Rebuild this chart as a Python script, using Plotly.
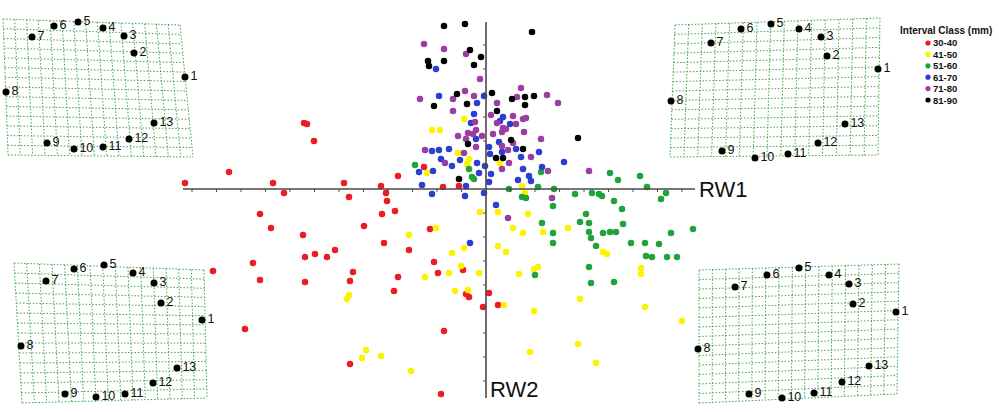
import plotly.graph_objects as go

# ---------------- DATA ----------------
categories = ["30-40", "41-50", "51-60", "61-70", "71-80", "81-90"]
colors = ["#ed1c24", "#fff200", "#1fa33a", "#2a3fd2", "#9a3ea4", "#000000"]

rw1_30_40 = [-0.182, -0.179, -0.172, -0.257, -0.301, -0.213, -0.142, -0.202, -0.105, -0.100,
             -0.088, -0.062, -0.043, -0.027, -0.137, -0.099, -0.091, -0.226, -0.104, -0.215,
             -0.122, -0.183, -0.102, -0.151, -0.171, -0.159, -0.181, -0.233, -0.273, -0.133,
             -0.136, -0.226, -0.181, -0.092, -0.020, -0.017, 0.003, -0.003, -0.241, -0.042,
             -0.136, -0.045, -0.056, -0.077, -0.088, -0.052, -0.048, -0.023, 0.012]
rw2_30_40 = [0.066, 0.065, 0.048, 0.017, 0.006, 0.006, 0.006, -0.004, 0.003, -0.004,
             0.013, 0.022, 0.002, 0.003, -0.008, -0.012, -0.022, -0.025, -0.025, -0.039,
             -0.037, -0.046, -0.054, -0.061, -0.065, -0.068, -0.068, -0.074, -0.082, -0.083,
             -0.092, -0.091, -0.093, -0.102, -0.105, -0.108, -0.104, -0.118, -0.140, -0.142,
             -0.175, -0.205, -0.040, -0.061, -0.088, -0.073, -0.084, -0.081, -0.116]

rw1_41_50 = [-0.022, -0.054, -0.046, -0.028, -0.017, -0.019, -0.059, 0.014, 0.036, 0.039,
             -0.006, 0.012, 0.042, 0.027, 0.037, 0.057, 0.082, 0.117, 0.121, 0.155,
             0.155, 0.052, 0.048, 0.033, 0.012, 0.020, -0.022, -0.034, -0.050, -0.077,
             -0.025, -0.037, -0.061, -0.007, -0.031, -0.018, 0.018, 0.048, 0.094, 0.159,
             0.196, -0.105, -0.075, 0.044, 0.092, 0.110, -0.137, -0.139, -0.120, -0.124]
rw2_41_50 = [0.070, 0.059, 0.059, 0.036, 0.030, 0.025, 0.016, 0.026, 0.003, -0.004,
             -0.023, -0.023, -0.025, -0.039, -0.044, -0.043, -0.039, -0.063, -0.065, -0.079,
             -0.085, -0.078, -0.080, -0.085, -0.057, -0.063, -0.059, -0.064, -0.039, -0.046,
             -0.077, -0.084, -0.088, -0.084, -0.102, -0.101, -0.116, -0.122, -0.110, -0.118,
             -0.132, -0.167, -0.182, -0.163, -0.155, -0.174, -0.106, -0.110, -0.161, -0.169]

rw1_51_60 = [-0.071, -0.017, -0.014, -0.012, 0.023, 0.036, 0.040, 0.052, 0.055, 0.068,
             0.089, 0.067, 0.106, 0.113, 0.116, 0.128, 0.136, 0.161, 0.180, 0.175,
             0.124, 0.132, 0.154, 0.056, 0.067, 0.067, 0.094, 0.100, 0.103, 0.103,
             0.105, 0.110, 0.117, 0.124, 0.130, 0.137, 0.145, 0.159, 0.173, 0.185,
             0.207, 0.160, 0.166, 0.181, 0.191, 0.103, 0.128, 0.105, 0.049]
rw2_51_60 = [0.024, 0.020, 0.012, 0.010, 0.000, -0.008, -0.009, 0.002, 0.017, 0.000,
             -0.005, -0.017, -0.004, -0.005, -0.007, -0.012, -0.020, 0.002, -0.004, -0.010,
             0.016, 0.009, 0.013, -0.034, -0.044, -0.054, -0.033, -0.025, -0.034, -0.043,
             -0.049, -0.057, -0.044, -0.043, -0.043, -0.035, -0.054, -0.054, -0.055, -0.044,
             -0.040, -0.067, -0.068, -0.068, -0.068, -0.078, -0.093, -0.094, -0.086]

rw1_61_70 = [-0.050, -0.047, -0.002, -0.009, -0.012, -0.015, -0.010, 0.003, 0.004, 0.017,
             0.014, 0.024, 0.013, 0.016, 0.030, 0.035, -0.037, -0.047, -0.054, -0.045,
             -0.026, -0.009, -0.001, -0.034, -0.067, -0.053, -0.007, 0.005, 0.037, 0.032,
             0.045, 0.043, 0.003, -0.020, -0.064, -0.054, -0.021, -0.002, 0.053, 0.078,
             0.056, 0.010, -0.016]
rw2_61_70 = [0.120, 0.093, 0.093, 0.086, 0.075, 0.066, 0.050, 0.042, 0.035, 0.072,
             0.068, 0.065, 0.047, 0.037, 0.040, 0.032, 0.040, 0.039, 0.038, 0.030,
             0.029, 0.026, 0.023, 0.023, 0.017, 0.018, 0.016, 0.015, 0.020, 0.009,
             0.008, 0.013, 0.007, 0.003, 0.004, -0.005, -0.007, -0.004, 0.037, 0.027,
             0.022, -0.016, -0.054]

rw1_71_80 = [-0.062, -0.042, -0.020, -0.006, -0.066, -0.033, -0.021, -0.012, -0.033, -0.011,
             -0.010, -0.018, -0.028, -0.020, -0.004, -0.013, -0.022, -0.061, -0.041, 0.005,
             0.011, 0.027, 0.035, 0.031, 0.011, 0.017, 0.020, 0.016, 0.030, 0.037,
             0.040, 0.007, 0.027, 0.016, 0.022, 0.045, 0.023, 0.016, 0.055, 0.038,
             0.072, 0.061, 0.062, 0.103, 0.066, 0.022, -0.010]
rw2_71_80 = [0.145, 0.140, 0.135, 0.110, 0.090, 0.090, 0.098, 0.093, 0.078, 0.067,
             0.059, 0.056, 0.053, 0.050, 0.053, 0.055, 0.036, 0.039, 0.026, 0.074,
             0.086, 0.073, 0.101, 0.092, 0.066, 0.061, 0.060, 0.057, 0.065, 0.070,
             0.071, 0.055, 0.046, 0.043, 0.039, 0.032, 0.026, 0.020, 0.050, 0.057,
             0.086, 0.094, 0.018, 0.018, -0.009, -0.029, 0.042]

rw1_81_90 = [-0.042, -0.021, 0.046, -0.016, -0.058, -0.057, -0.042, -0.012, -0.005, 0.006,
             -0.029, -0.052, -0.019, 0.026, 0.039, 0.048, 0.039, 0.011, 0.025, -0.018,
             0.037, 0.010, 0.017, -0.027, 0.092]
rw2_81_90 = [0.163, 0.165, 0.157, 0.139, 0.128, 0.123, 0.128, 0.124, 0.132, 0.096,
             0.095, 0.083, 0.085, 0.090, 0.092, 0.093, 0.084, 0.078, 0.049, 0.045,
             0.040, 0.031, 0.031, 0.010, 0.051]

series_rw1 = [rw1_30_40, rw1_41_50, rw1_51_60, rw1_61_70, rw1_71_80, rw1_81_90]
series_rw2 = [rw2_30_40, rw2_41_50, rw2_51_60, rw2_61_70, rw2_71_80, rw2_81_90]

# deformation-grid insets: landmark labels and coordinates (local frame, y down)
landmark_labels = [str(i) for i in range(1, 14)]
tl_x = [185, 134, 124, 103, 78, 54, 32, 6, 47, 74, 103, 129, 154]
tl_y = [77, 53, 36, 28, 22, 26, 37, 92, 143, 149, 147, 139, 123]
tr_x = [218, 167, 161, 139, 111, 81, 51, 11, 62, 95, 128, 158, 185]
tr_y = [64, 51, 32, 24, 19, 24, 38, 96, 146, 153, 149, 138, 119]
bl_x = [202, 161, 154, 133, 104, 74, 46, 21, 65, 96, 125, 153, 177]
bl_y = [70, 53, 33, 23, 15, 19, 31, 96, 144, 147, 144, 133, 118]
br_x = [211, 168, 164, 144, 114, 82, 50, 13, 64, 97, 129, 157, 184]
br_y = [57, 49, 29, 20, 13, 20, 32, 94, 139, 143, 138, 127, 111]

# ---------------- LAYOUT CONSTANTS ----------------
W, H = 999, 412
OX, OY, S = 486, 189, 1000.0   # origin pixel and pixels per unit

fig = go.Figure()

for cat, col, xs, ys in zip(categories, colors, series_rw1, series_rw2):
    fig.add_trace(go.Scatter(x=xs, y=ys, mode="markers", name=cat,
                             marker=dict(color=col, size=6.5, line=dict(width=0)),
                             showlegend=False, xaxis="x", yaxis="y"))

shapes = []
axis_col = "#4a4a4a"
# RW1 and RW2 axes
shapes.append(dict(type="line", xref="x", yref="y", x0=(183 - OX) / S, x1=(695 - OX) / S,
                   y0=0, y1=0, line=dict(color=axis_col, width=1.6)))
shapes.append(dict(type="line", xref="x", yref="y", x0=0, x1=0, y0=(OY - 22) / S,
                   y1=(OY - 398) / S, line=dict(color=axis_col, width=1.6)))
tick_len = 3 / S
for k in range(-12, 9):
    if k == 0:
        continue
    xv = k * 0.0245
    shapes.append(dict(type="line", xref="x", yref="y", x0=xv, x1=xv, y0=0, y1=-tick_len,
                       line=dict(color=axis_col, width=1)))
for k in range(-8, 7):
    if k == 0:
        continue
    yv = k * 0.024
    shapes.append(dict(type="line", xref="x", yref="y", x0=0, x1=-tick_len, y0=yv, y1=yv,
                       line=dict(color=axis_col, width=1)))

annotations = [
    dict(text="RW1", x=(697 - OX) / S, y=0, xref="x", yref="y", xanchor="left",
         yanchor="middle", showarrow=False,
         font=dict(family="Liberation Sans, Arial", size=22, color="#111")),
    dict(text="RW2", x=(488 - OX) / S, y=(OY - 389) / S, xref="x", yref="y",
         xanchor="left", yanchor="middle", showarrow=False,
         font=dict(family="Liberation Sans, Arial", size=22, color="#111")),
]

# ---------------- INSETS ----------------
insets = [
    # origin px, size, corners (TL, TR, BR, BL) in local px, landmarks
    dict(o=(0, 0), s=(210, 170), c=[(3, 19), (180, 25), (193, 157), (8, 155)], lx=tl_x, ly=tl_y),
    dict(o=(660, 5), s=(240, 165), c=[(15, 20), (220, 13), (218, 150), (10, 152)], lx=tr_x, ly=tr_y),
    dict(o=(0, 250), s=(220, 160), c=[(14, 13), (204, 20), (207, 148), (22, 153)], lx=bl_x, ly=bl_y),
    dict(o=(685, 255), s=(225, 155), c=[(14, 15), (214, 9), (212, 139), (14, 148)], lx=br_x, ly=br_y),
]
NCOL, NROW = 15, 14
grid_col = "#3fa648"


def bil(c, u, v):
    (x00, y00), (x10, y10), (x11, y11), (x01, y01) = c
    x = (1 - u) * (1 - v) * x00 + u * (1 - v) * x10 + u * v * x11 + (1 - u) * v * x01
    y = (1 - u) * (1 - v) * y00 + u * (1 - v) * y10 + u * v * y11 + (1 - u) * v * y01
    return x, y


layout_axes = {}
for i, ins in enumerate(insets):
    n = i + 2
    ox, oy = ins["o"]
    w, h = ins["s"]
    xa, ya = f"x{n}", f"y{n}"
    layout_axes[f"xaxis{n}"] = dict(domain=[ox / W, (ox + w) / W], range=[0, w], visible=False,
                                    fixedrange=True, anchor=ya)
    layout_axes[f"yaxis{n}"] = dict(domain=[1 - (oy + h) / H, 1 - oy / H], range=[h, 0],
                                    visible=False, fixedrange=True, anchor=xa)
    gx, gy = [], []
    for j in range(NCOL + 1):
        u = j / NCOL
        a = bil(ins["c"], u, 0)
        b = bil(ins["c"], u, 1)
        gx += [a[0], b[0], None]
        gy += [a[1], b[1], None]
    for j in range(NROW + 1):
        v = j / NROW
        a = bil(ins["c"], 0, v)
        b = bil(ins["c"], 1, v)
        gx += [a[0], b[0], None]
        gy += [a[1], b[1], None]
    fig.add_trace(go.Scatter(x=gx, y=gy, mode="lines", xaxis=xa, yaxis=ya, showlegend=False,
                             line=dict(color=grid_col, width=1, dash="1.5px,1.8px"),
                             hoverinfo="skip"))
    fig.add_trace(go.Scatter(x=ins["lx"], y=ins["ly"], mode="markers+text", xaxis=xa, yaxis=ya,
                             text=landmark_labels, textposition="middle right",
                             textfont=dict(family="Liberation Sans, Arial", size=12.5,
                                           color="#111"),
                             marker=dict(color="#000", size=7), cliponaxis=False,
                             showlegend=False))

# ---------------- LEGEND (manual) ----------------
annotations.append(dict(text="<b>Interval Class (mm)</b>", x=946 / W, y=1 - 31 / H,
                        xref="paper", yref="paper", xanchor="center", yanchor="middle",
                        showarrow=False,
                        font=dict(family="Liberation Sans, Arial", size=10, color="#111")))
for k, (cat, col) in enumerate(zip(categories, colors)):
    yc = 43 + k * 11.4
    shapes.append(dict(type="circle", xref="paper", yref="paper", xsizemode="pixel",
                       ysizemode="pixel", xanchor=928 / W, yanchor=1 - yc / H,
                       x0=-2.6, x1=2.6, y0=-2.6, y1=2.6,
                       fillcolor=col, line=dict(width=0)))
    annotations.append(dict(text=f"<b>{cat}</b>", x=931 / W, y=1 - yc / H, xref="paper",
                            yref="paper", xanchor="left", yanchor="middle", showarrow=False,
                            font=dict(family="Liberation Sans, Arial", size=9.5, color="#111")))

fig.update_layout(
    width=W, height=H, margin=dict(l=0, r=0, t=0, b=0),
    paper_bgcolor="white", plot_bgcolor="rgba(0,0,0,0)",
    xaxis=dict(range=[(0 - OX) / S, (W - OX) / S], visible=False, fixedrange=True),
    yaxis=dict(range=[(OY - H) / S, OY / S], visible=False, fixedrange=True),
    shapes=shapes, annotations=annotations, showlegend=False,
    **layout_axes,
)

fig.write_html("out.html")
